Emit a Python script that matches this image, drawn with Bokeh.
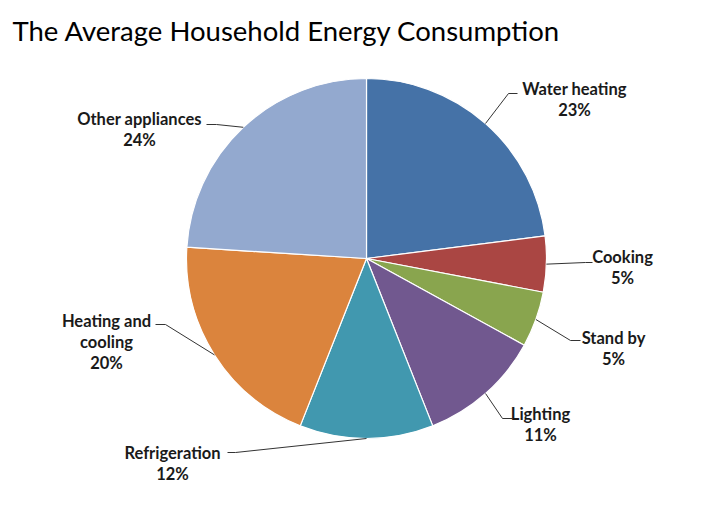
from math import pi, sin, cos

from bokeh.core.properties import value
from bokeh.embed import file_html
from bokeh.models import ColumnDataSource, Range1d
from bokeh.plotting import figure
from bokeh.resources import INLINE

# data, clockwise from 12 o'clock
categories = ["Water heating", "Cooking", "Stand by", "Lighting",
              "Refrigeration", "Heating and cooling", "Other appliances"]
shares = [23, 5, 5, 11, 12, 20, 24]
colors = ["#4572A7", "#AA4643", "#89A54E", "#71588F",
          "#4198AF", "#DB843D", "#93A9CF"]

W, H = 705, 504
PAGE_H = 520  # page px -> data y


def py(y):
    return PAGE_H - y


CX, CY, R = 366, py(258), 180

# label layout in page pixels: text centre x, first line y, leader elbow, leader end
label_layout = {
    "Water heating": (574, 88, (508, 93), (517, 93)),
    "Cooking": (622, 256, (585, 262), (592, 262)),
    "Stand by": (613, 337, (570, 340), (580, 340)),
    "Lighting": (540, 413, (502, 418), (512, 418)),
    "Refrigeration": (172, 452, (235, 452), (227, 452)),
    "Heating and cooling": (106, 320, (165, 324), (155, 324)),
    "Other appliances": (139, 118, (216, 124), (206, 124)),
}
wrap = {"Heating and cooling": ["Heating and", "cooling"]}


def main():
    total = float(sum(shares))
    starts, ends, mids = [], [], []
    acc = 0.0
    for s in shares:
        a0 = pi / 2 - 2 * pi * acc / total
        acc += s
        a1 = pi / 2 - 2 * pi * acc / total
        starts.append(a0)
        ends.append(a1)
        mids.append((a0 + a1) / 2)

    p = figure(width=W, height=H, output_backend="svg", toolbar_location=None,
               x_range=Range1d(0, W), y_range=Range1d(PAGE_H - H, PAGE_H),
               min_border=0, tools="")
    p.axis.visible = False
    p.grid.visible = False
    p.outline_line_color = None
    p.background_fill_color = "white"

    src = ColumnDataSource(data=dict(start=starts, end=ends, color=colors,
                                     cat=categories, share=shares))
    p.wedge(x=CX, y=CY, radius=R, start_angle="start", end_angle="end",
            direction="clock", fill_color="color", line_color="white",
            line_width=1.2, source=src)

    # leader lines
    xs, ys = [], []
    for cat, a in zip(categories, mids):
        _, _, elbow, end = label_layout[cat]
        xs.append([CX + R * cos(a), elbow[0], end[0]])
        ys.append([CY + R * sin(a), py(elbow[1]), py(end[1])])
    p.multi_line(xs=xs, ys=ys, line_color="#333333", line_width=1)

    # labels
    tx, ty, tt = [], [], []
    for cat, s in zip(categories, shares):
        x0, y0, _, _ = label_layout[cat]
        lines = wrap.get(cat, [cat]) + ["%d%%" % s]
        for i, line in enumerate(lines):
            tx.append(x0)
            ty.append(py(y0 + i * 21))
            tt.append(line)
    p.text(x=tx, y=ty, text=tt, text_align="center", text_baseline="middle",
           text_font=value("Lato"), text_font_style="bold",
           text_font_size="16.5px", text_color="#1a1a1a")

    p.text(x=[12], y=[py(30)], text=["The Average Household Energy Consumption"],
           text_align="left", text_baseline="middle",
           text_font=value("Lato"), text_font_size="27.5px", text_color="black")

    open("out.html", "w").write(file_html(p, INLINE))


if __name__ == "__main__":
    main()
